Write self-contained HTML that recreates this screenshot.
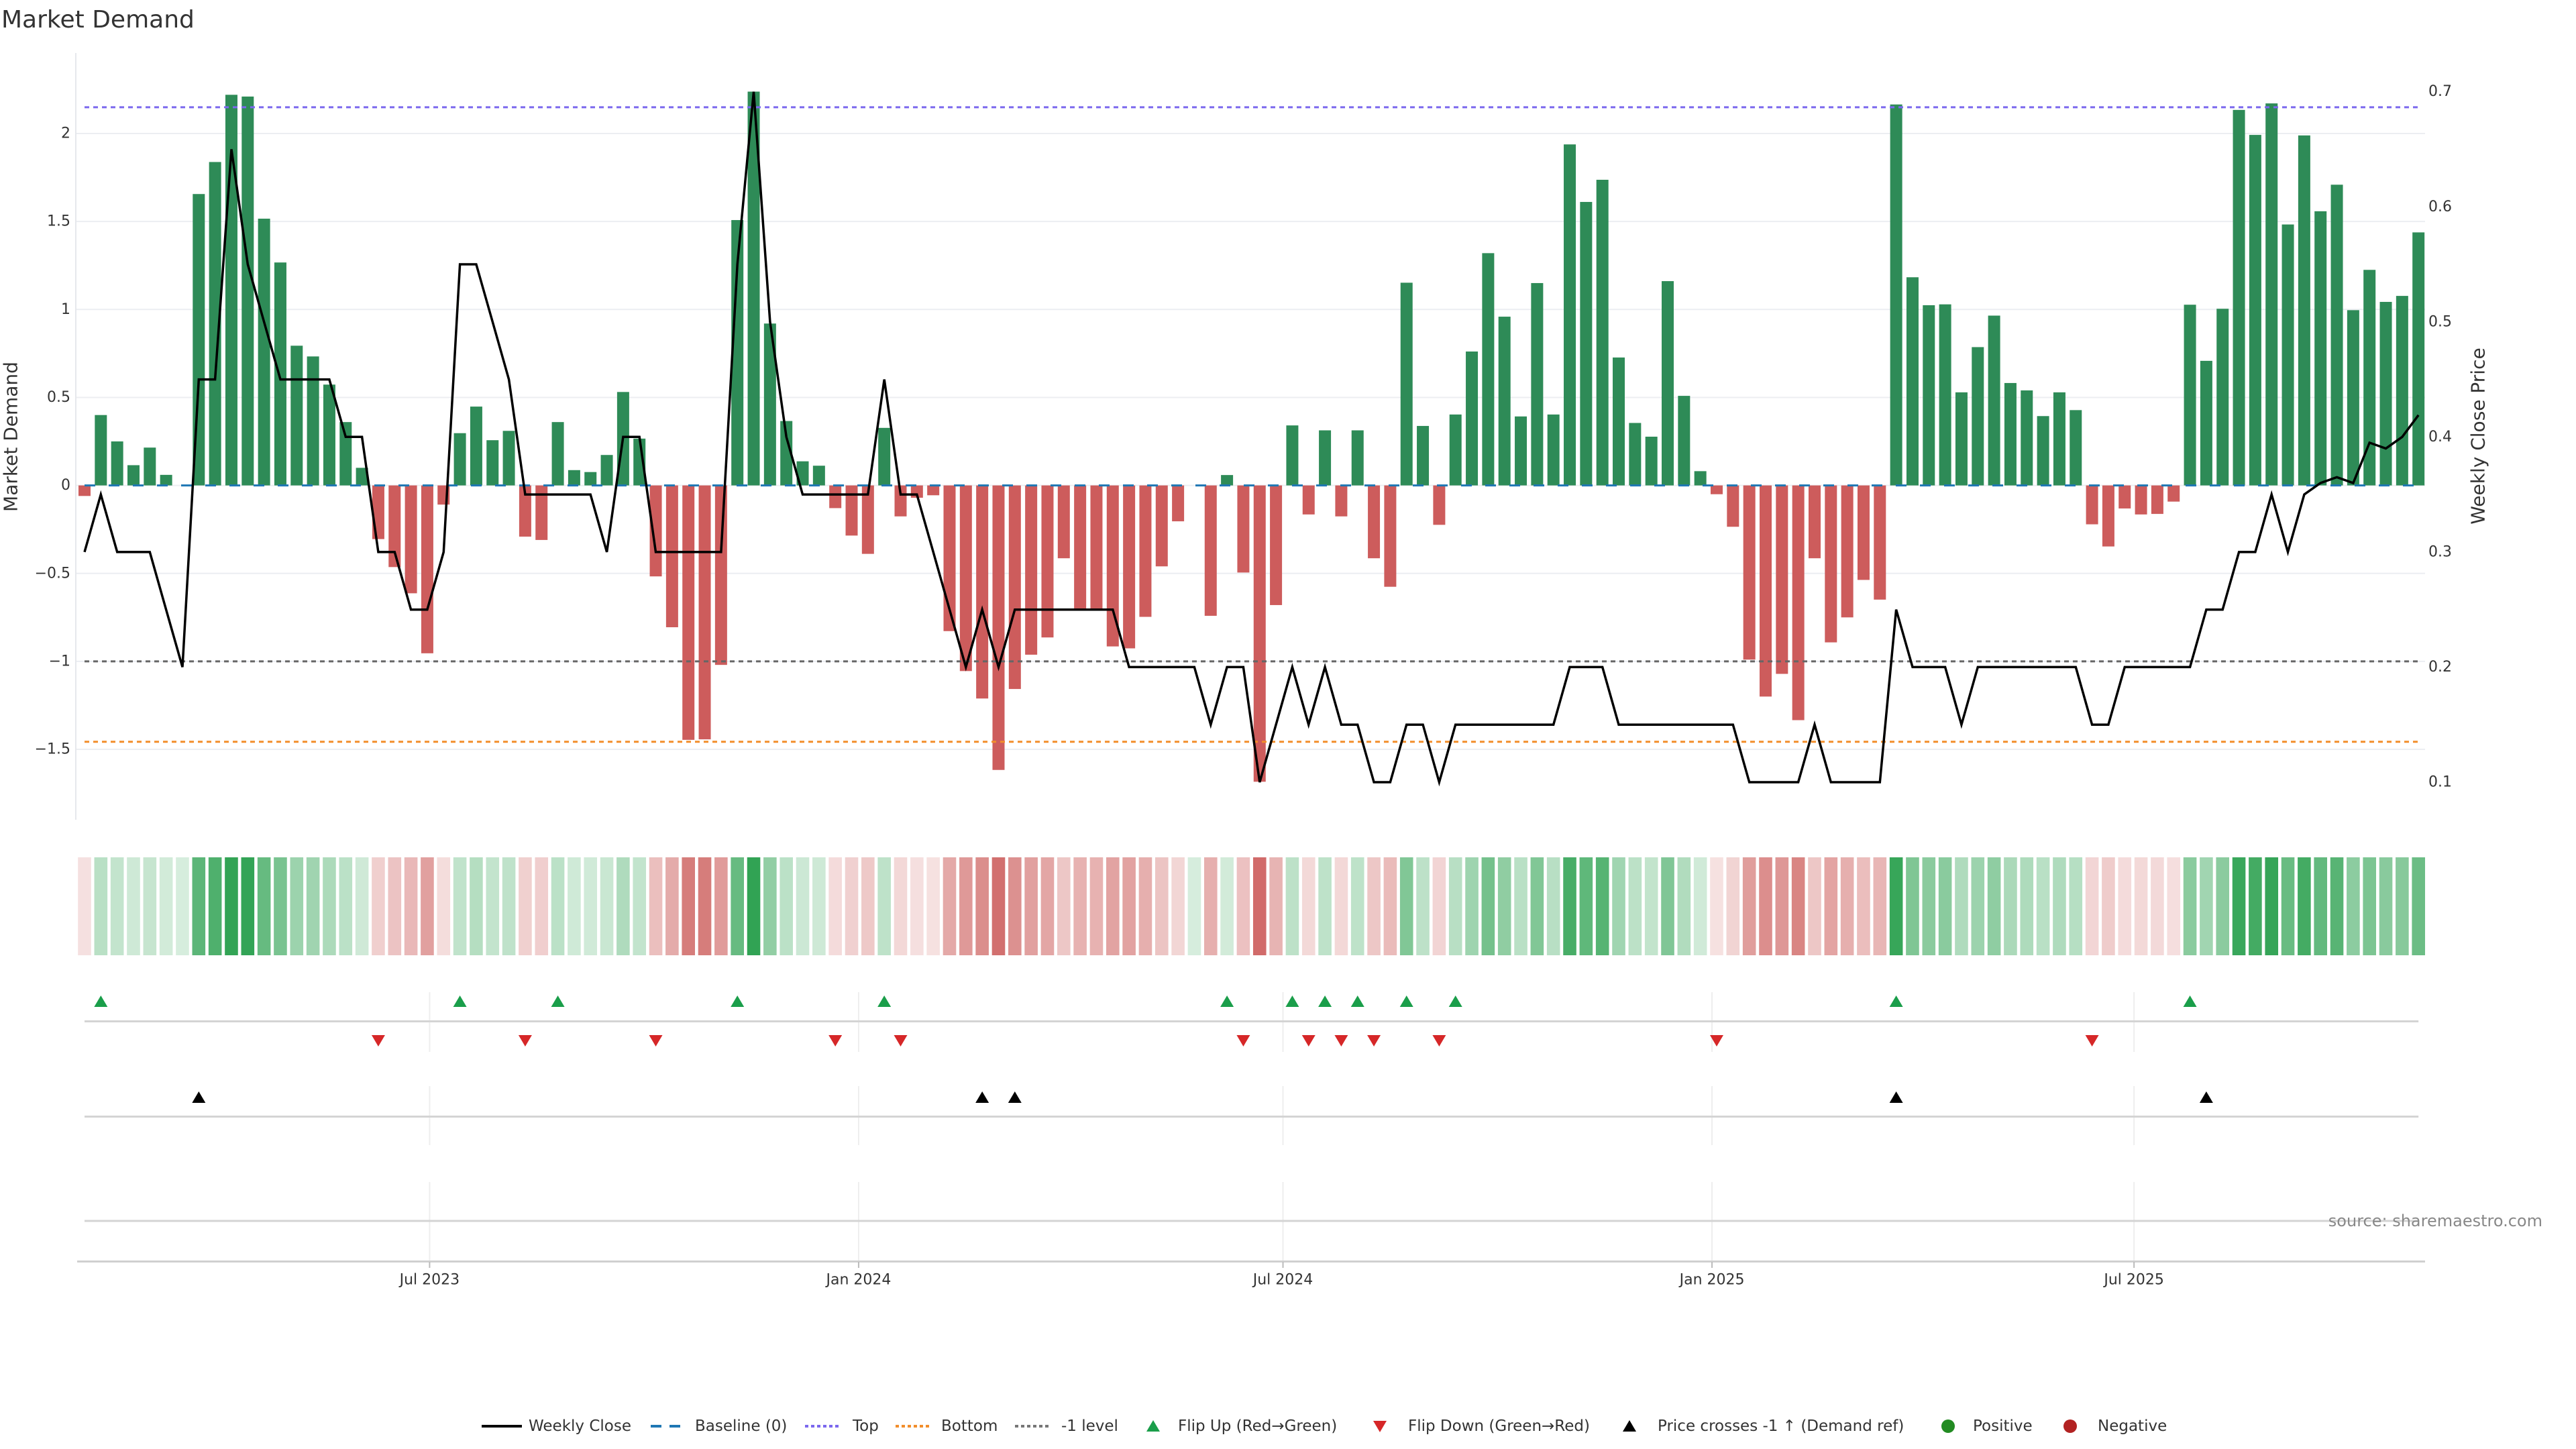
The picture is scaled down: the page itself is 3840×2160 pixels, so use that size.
<!DOCTYPE html>
<html><head><meta charset="utf-8"><title>Market Demand</title>
<style>
html,body{margin:0;padding:0;background:#fff;}
svg{display:block;font-family:"DejaVu Sans","Liberation Sans",sans-serif;}
</style></head>
<body>
<svg id="chart" xmlns="http://www.w3.org/2000/svg" width="3840" height="2160" viewBox="0 0 3840 2160">
<rect x="0" y="0" width="3840" height="2160" fill="#fff"/>
<text x="2" y="41" font-size="36" fill="#333">Market Demand</text>
<g id="grid"></g>
<g id="bars"></g>
<g id="refs"></g>
<g id="price"></g>
<g id="heat"></g>
<g id="markers"></g>
<g id="axes"></g>
<text x="16" y="651" font-size="28" fill="#333" text-anchor="middle" transform="rotate(-90 16 651)" dominant-baseline="central">Market Demand</text>
<text x="3694" y="650" font-size="28" fill="#333" text-anchor="middle" transform="rotate(-90 3694 650)" dominant-baseline="central">Weekly Close Price</text>
<text x="3790" y="1828" font-size="24" fill="#888" text-anchor="end">source: sharemaestro.com</text>
<g id="legend"></g>
</svg>
<script>
const startDate = "2023-02-03";
const demand = [-0.06,0.40,0.25,0.115,0.215,0.06,0,1.656,1.838,2.22,2.21,1.516,1.267,0.794,0.733,0.573,0.36,0.10,-0.305,-0.464,
-0.613,-0.954,-0.109,0.297,0.448,0.257,0.31,-0.291,-0.31,0.36,0.087,0.076,0.173,0.531,0.266,-0.517,-0.806,-1.446,-1.443,-1.02,
1.508,2.238,0.92,0.366,0.137,0.112,-0.129,-0.285,-0.389,0.327,-0.176,-0.07,-0.056,-0.828,-1.055,-1.211,-1.617,-1.157,-0.962,-0.864,
-0.414,-0.70,-0.70,-0.915,-0.926,-0.747,-0.46,-0.204,0,-0.741,0.059,-0.495,-1.684,-0.68,0.341,-0.165,0.313,-0.176,0.313,-0.414,
-0.576,1.152,0.338,-0.224,0.403,0.761,1.32,0.959,0.392,1.15,0.403,1.938,1.611,1.737,0.727,0.355,0.277,1.161,0.509,0.081,
-0.05,-0.235,-0.99,-1.2,-1.071,-1.334,-0.414,-0.892,-0.75,-0.537,-0.649,2.165,1.183,1.024,1.029,0.529,0.786,0.965,0.582,0.54,
0.394,0.529,0.428,-0.221,-0.347,-0.131,-0.165,-0.162,-0.092,1.027,0.708,1.004,2.134,1.992,2.171,1.483,1.989,1.558,1.709,0.996,
1.225,1.043,1.077,1.438];
const closes = [0.30,0.35,0.30,0.30,0.30,0.25,0.20,0.45,0.45,0.65,0.55,0.50,0.45,0.45,0.45,0.45,0.40,0.40,0.30,0.30,
0.25,0.25,0.30,0.55,0.55,0.50,0.45,0.35,0.35,0.35,0.35,0.35,0.30,0.40,0.40,0.30,0.30,0.30,0.30,0.30,
0.55,0.70,0.50,0.40,0.35,0.35,0.35,0.35,0.35,0.45,0.35,0.35,0.30,0.25,0.20,0.25,0.20,0.25,0.25,0.25,
0.25,0.25,0.25,0.25,0.20,0.20,0.20,0.20,0.20,0.15,0.20,0.20,0.10,0.15,0.20,0.15,0.20,0.15,0.15,0.10,
0.10,0.15,0.15,0.10,0.15,0.15,0.15,0.15,0.15,0.15,0.15,0.20,0.20,0.20,0.15,0.15,0.15,0.15,0.15,0.15,
0.15,0.15,0.10,0.10,0.10,0.10,0.15,0.10,0.10,0.10,0.10,0.25,0.20,0.20,0.20,0.15,0.20,0.20,0.20,0.20,
0.20,0.20,0.20,0.15,0.15,0.20,0.20,0.20,0.20,0.20,0.25,0.25,0.30,0.30,0.35,0.30,0.35,0.36,0.365,0.36,
0.395,0.39,0.40,0.419];
const topLevel = 2.149;
const bottomLevel = -1.457;
const minusLevel = -1;
const yTicks = [-1.5,-1,-0.5,0,0.5,1,1.5,2];
const yTickLabels = ["−1.5","−1","−0.5","0","0.5","1","1.5","2"];
const y2Ticks = [0.1,0.2,0.3,0.4,0.5,0.6,0.7];
const y2TickLabels = ["0.1","0.2","0.3","0.4","0.5","0.6","0.7"];
const xTickDates = ["2023-07-01","2024-01-01","2024-07-01","2025-01-01","2025-07-01"];
const xTickLabels = ["Jul 2023","Jan 2024","Jul 2024","Jan 2025","Jul 2025"];

const NS="http://www.w3.org/2000/svg";
const DAY=86400000, d0=Date.parse(startDate);
const X0=126, PXWEEK=24.33;
function xDate(s){return X0+(Date.parse(s)-d0)/DAY*PXWEEK/7;}
function xi(i){return X0+i*PXWEEK;}
function yv(v){return 723.6-v*262.3;}
function yp(p){return 136.7+(0.7-p)*1715.5;}
function pFromY(y){return 0.7-(y-136.7)/1715.5;}
function mk(tag,attrs,parent){const e=document.createElementNS(NS,tag);for(const k in attrs)e.setAttribute(k,attrs[k]);parent.appendChild(e);return e;}
const G=id=>document.getElementById(id);
const PL=113, PR=3615, PT=79, PB=1222;
const N=demand.length, xFirst=xi(0), xLast=xi(N-1);

// grid
const grid=G('grid');
yTicks.forEach((t,k)=>{
  const l=mk('line',{x1:PL,x2:PR,y1:yv(t),y2:yv(t),stroke:'#eceef2','stroke-width':2},grid);
  
  
});
// bars
const bars=G('bars');
demand.forEach((v,i)=>{
  const y=Math.min(yv(v),yv(0)), h=Math.abs(yv(v)-yv(0));
  const r=mk('rect',{x:xi(i)-9,y:y,width:18,height:Math.max(h,0),fill:v>=0?'#2e8b57':'#cd5c5c'},bars);
  
  
});
// reference lines
const refs=G('refs');
let rl;
rl=mk('line',{x1:xFirst,x2:xLast,y1:yv(0),y2:yv(0),stroke:'#1f77b4','stroke-width':3,'stroke-dasharray':'16 20'},refs);


rl=mk('line',{x1:xFirst,x2:xLast,y1:yv(topLevel),y2:yv(topLevel),stroke:'#7b68ee','stroke-width':3,'stroke-dasharray':'7 6'},refs);


rl=mk('line',{x1:xFirst,x2:xLast,y1:yv(bottomLevel),y2:yv(bottomLevel),stroke:'#f28e2b','stroke-width':3,'stroke-dasharray':'7 6'},refs);


rl=mk('line',{x1:xFirst,x2:xLast,y1:yv(minusLevel),y2:yv(minusLevel),stroke:'#666','stroke-width':3,'stroke-dasharray':'7 6'},refs);


// price line
const pl=mk('polyline',{points:closes.map((p,i)=>xi(i).toFixed(1)+','+yp(p).toFixed(1)).join(' '),fill:'none',stroke:'#000','stroke-width':3.5,'stroke-linejoin':'miter'},G('price'));


// heatmap
const heat=G('heat');
demand.forEach((v,i)=>{
  const a=Math.abs(v);
  let fill;
  if(v>=0){const al=Math.min(1,0.2+0.8*a/2.24);fill=`rgba(49,163,84,${al.toFixed(3)})`;}
  else{const al=Math.min(1,0.15+0.7*a/1.7);fill=`rgba(200,80,78,${al.toFixed(3)})`;}
  const c=mk('rect',{x:xi(i)-9.8,y:1278,width:19.6,height:146,fill:fill},heat);
  
  
});
// marker rows
const mg=G('markers');
const rowSegs=[[1479,1568],[1619,1707],[1762,1880]];
xTickDates.forEach(d=>{
  rowSegs.forEach(s=>{
    const l=mk('line',{x1:xDate(d),x2:xDate(d),y1:s[0],y2:s[1],stroke:'#eeeeee','stroke-width':2},mg);
    
    
  });
});
[1522.5,1664.5,1820].forEach(y=>{
  const l=mk('line',{x1:xFirst,x2:xLast,y1:y,y2:y,stroke:'#d4d4d4','stroke-width':3},mg);
  
  
});
function tri(x,y,up,color,name){
  const pts=up?`${x-10},${y+8} ${x+10},${y+8} ${x},${y-9}`:`${x-10},${y-8} ${x+10},${y-8} ${x},${y+9}`;
  const t=mk('polygon',{points:pts,fill:color},mg);
  
  
}
let lastSign=0;
demand.forEach((v,i)=>{
  const s=v>0?1:(v<0?-1:0);
  if(s!==0){
    if(lastSign===-1&&s===1)tri(xi(i),1493,true,'#1a9e4a','flip-up-marker');
    if(lastSign===1&&s===-1)tri(xi(i),1551,false,'#d62728','flip-down-marker');
    lastSign=s;
  }
});
const crossPrice=pFromY(yv(minusLevel));
closes.forEach((p,i)=>{
  if(i>0&&closes[i-1]<=crossPrice&&p>crossPrice)tri(xi(i),1636,true,'#000','price-cross-marker');
});
// axes
const ax=G('axes');
let a;
a=mk('line',{x1:PL,x2:PL,y1:PT,y2:PB,stroke:'#e6e8ec','stroke-width':2},ax);


a=mk('line',{x1:115,x2:PR,y1:1880.5,y2:1880.5,stroke:'#d0d0d0','stroke-width':3},ax);


yTicks.forEach((t,k)=>{
  const e=mk('text',{x:105,y:yv(t),'font-size':22,fill:'#333','text-anchor':'end','dominant-baseline':'central'},ax);
  e.textContent=yTickLabels[k];
  
  
});
y2Ticks.forEach((t,k)=>{
  const e=mk('text',{x:3620,y:yp(t),'font-size':22,fill:'#333','dominant-baseline':'central'},ax);
  e.textContent=y2TickLabels[k];
  
  
});
xTickDates.forEach((d,k)=>{
  const x=xDate(d);
  const tk=mk('line',{x1:x,x2:x,y1:1881,y2:1890,stroke:'#bbb','stroke-width':2},ax);
  
  
  const e=mk('text',{x:x,y:1908,'font-size':22,fill:'#333','text-anchor':'middle','dominant-baseline':'central'},ax);
  e.textContent=xTickLabels[k];
  
  
});
// legend
const lg=G('legend');
const LY=2126;
function ltext(x,s){const e=mk('text',{x:x,y:LY,'font-size':23,fill:'#333','dominant-baseline':'central'},lg);e.textContent=s;}
function lline(x1,x2,color,dash,w){const e=mk('line',{x1:x1,x2:x2,y1:LY,y2:LY,stroke:color,'stroke-width':w,'stroke-dasharray':dash},lg);}
lline(718,778,'#000','none',4);ltext(788,'Weekly Close');
lline(970,1020,'#1f77b4','16 12',4);ltext(1036,'Baseline (0)');
lline(1200,1250,'#7b68ee','5 4',4);ltext(1271,'Top');
lline(1335,1385,'#f28e2b','5 4',4);ltext(1403,'Bottom');
lline(1513,1563,'#777','5 4',4);ltext(1582,'-1 level');
function ltri(x,up,color){const pts=up?`${x-10},${LY+8} ${x+10},${LY+8} ${x},${LY-9}`:`${x-10},${LY-8} ${x+10},${LY-8} ${x},${LY+9}`;const e=mk('polygon',{points:pts,fill:color},lg);}
ltri(1719,true,'#1a9e4a');ltext(1756,'Flip Up (Red→Green)');
ltri(2057,false,'#d62728');ltext(2099,'Flip Down (Green→Red)');
ltri(2429,true,'#000');ltext(2471,'Price crosses -1 ↑ (Demand ref)');
function ldot(x,color){const e=mk('circle',{cx:x,cy:LY,r:10,fill:color},lg);}
ldot(2904,'#228b22');ltext(2941,'Positive');
ldot(3086,'#b22222');ltext(3127,'Negative');
</script>
</body></html>
